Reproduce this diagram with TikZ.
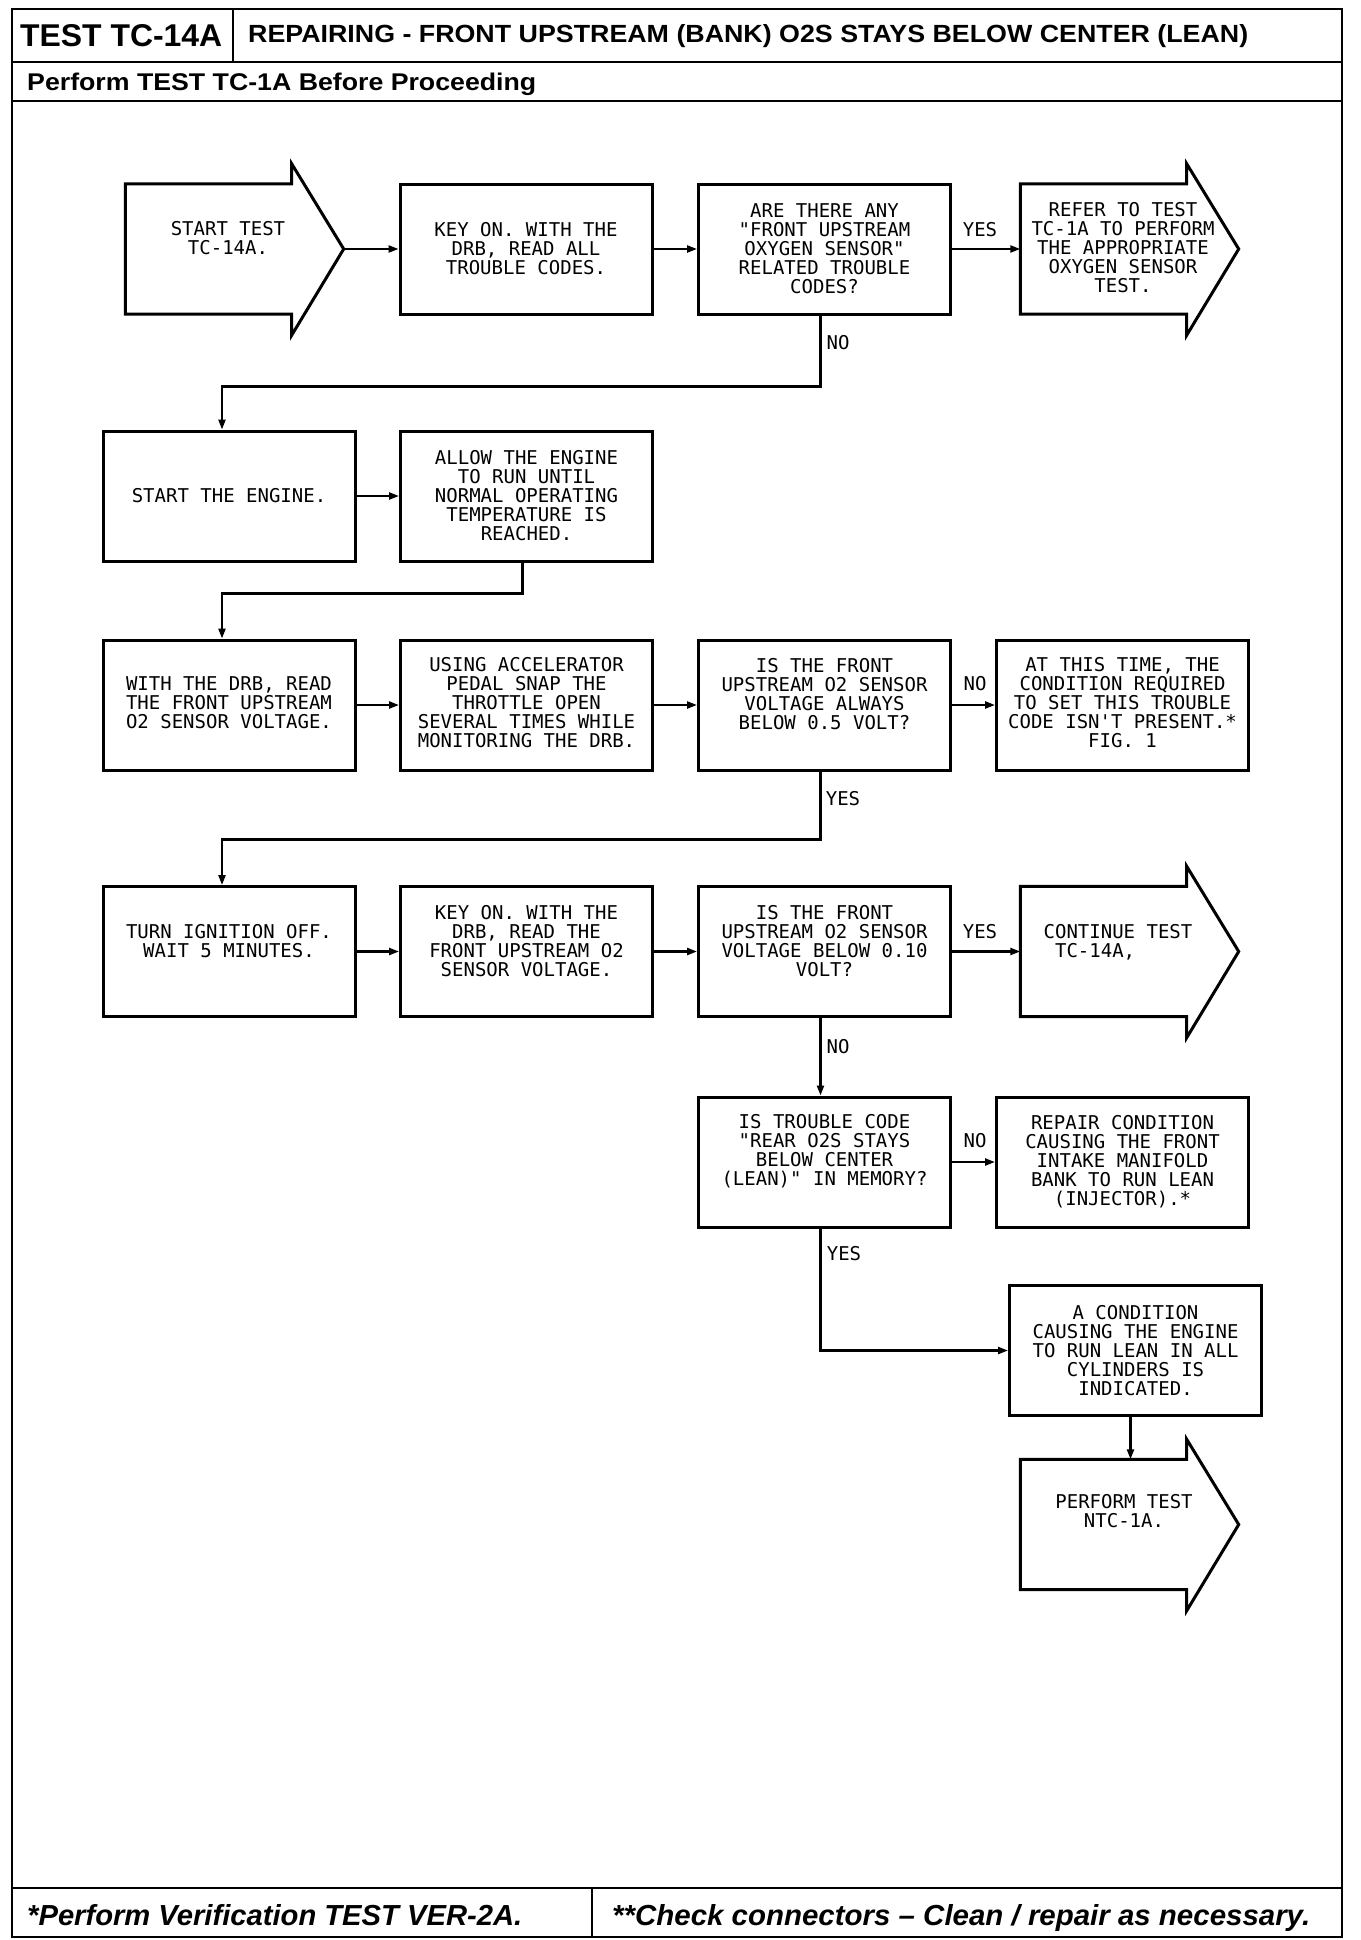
\documentclass[tikz,border=0pt]{standalone}
\usepackage{fontspec}
\usepackage{graphicx}
\setmainfont{Liberation Sans}
\newfontfamily\plotfont{DejaVu Sans Mono}
\usetikzlibrary{arrows.meta,calc}
\newcommand\bigarrow[1]{%
  \draw[boxline] (#1.north west) -- (#1.north east) -- ([yshift=20pt]#1.north east)
    -- ([xshift=52pt]#1.east) -- ([yshift=-21pt]#1.south east) -- (#1.south east)
    -- (#1.south west) -- cycle;
  \coordinate (#1tip) at ([xshift=52pt]#1.east);}
\begin{document}
\begin{tikzpicture}[x=1pt,y=-1pt,
  boxline/.style={line width=3pt, line join=miter},
  box/.style={draw, line width=3pt, minimum width=252pt, minimum height=130pt, inner sep=0pt},
  arrbody/.style={minimum width=166pt, minimum height=130pt, inner sep=0pt},
  txt/.style={font=\plotfont\fontsize{19}{19}\selectfont, align=center, inner sep=0pt},
  lbl/.style={font=\plotfont\fontsize{19}{19}\selectfont, inner sep=0pt},
  conn/.style={line width=2.2pt, -{Triangle[length=10pt,width=7pt]}},
  frame/.style={line width=2.6pt}]
\useasboundingbox (0,0) rectangle (1360,1940);
\fill[white] (0,0) rectangle (1360,1940);

% frame and header/footer
\draw[frame] (12,9) rectangle (1342,1937);
\draw[frame] (12,62) -- (1342,62);
\draw[frame] (12,101) -- (1342,101);
\draw[frame] (233,9) -- (233,62);
\draw[frame] (12,1888) -- (1342,1888);
\draw[frame] (592,1888) -- (592,1937);

\node[anchor=base west, inner sep=0pt] (hd1) at (20,47) {\resizebox{202pt}{22pt}{\bfseries TEST TC-14A}};
\node[anchor=base west, inner sep=0pt] (hd2) at (248,43) {\resizebox{1000pt}{18pt}{\bfseries REPAIRING - FRONT UPSTREAM (BANK) O2S STAYS BELOW CENTER (LEAN)}};
\node[anchor=base west, inner sep=0pt] (hd3) at (27,91) {\resizebox{509pt}{17.5pt}{\bfseries Perform TEST TC-1A Before Proceeding}};
\node[anchor=base west, inner sep=0pt] (ft1) at (27,1925) {\resizebox{495pt}{21pt}{\bfseries\itshape *Perform Verification TEST VER-2A.}};
\node[anchor=base west, inner sep=0pt] (ft2) at (612,1925) {\resizebox{698pt}{21pt}{\bfseries\itshape **Check connectors – Clean / repair as necessary.}};

% row 1
\node[arrbody] (a1) at (208.5,249) {};
\bigarrow{a1}
\node[txt] (ta1) at (228,238) {START TEST\\TC-14A.};
\node[box] (b1) at (526,249) {};
\node[txt] (t1) at (b1.center) {KEY ON. WITH THE\\DRB, READ ALL\\TROUBLE CODES.};
\node[box] (b2) at (824.5,249) {};
\node[txt] (t2) at (b2.center) {ARE THERE ANY\\"FRONT UPSTREAM\\OXYGEN SENSOR"\\RELATED TROUBLE\\CODES?};
\node[arrbody] (a2) at (1103.5,249) {};
\bigarrow{a2}
\node[txt] (ta2) at (1123,248) {REFER TO TEST\\TC-1A TO PERFORM\\THE APPROPRIATE\\OXYGEN SENSOR\\TEST.};

% row 2
\node[box] (b3) at (229,496) {};
\node[txt] (t3) at (b3.center) {START THE ENGINE.};
\node[box] (b4) at (526.5,496) {};
\node[txt] (t4) at (b4.center) {ALLOW THE ENGINE\\TO RUN UNTIL\\NORMAL OPERATING\\TEMPERATURE IS\\REACHED.};

% row 3
\node[box] (b5) at (229,705) {};
\node[txt] (t5) at ([yshift=2pt]b5.center) {WITH THE DRB, READ\\THE FRONT UPSTREAM\\O2 SENSOR VOLTAGE.};
\node[box] (b6) at (526.5,705) {};
\node[txt] (t6) at ([yshift=2pt]b6.center) {USING ACCELERATOR\\PEDAL SNAP THE\\THROTTLE OPEN\\SEVERAL TIMES WHILE\\MONITORING THE DRB.};
\node[box] (b7) at (824.5,705) {};
\node[txt] (t7) at ([yshift=11pt]b7.center) {IS THE FRONT\\UPSTREAM O2 SENSOR\\VOLTAGE ALWAYS\\BELOW 0.5 VOLT?};
\node[box] (b8) at (1122.5,705) {};
\node[txt] (t8) at ([yshift=2pt]b8.center) {AT THIS TIME, THE\\CONDITION REQUIRED\\TO SET THIS TROUBLE\\CODE ISN'T PRESENT.*\\FIG. 1};

% row 4
\node[box] (b9) at (229,951.5) {};
\node[txt] (t9) at ([yshift=10pt]b9.center) {TURN IGNITION OFF.\\WAIT 5 MINUTES.};
\node[box] (b10) at (526.5,951.5) {};
\node[txt] (t10) at ([yshift=10pt]b10.center) {KEY ON. WITH THE\\DRB, READ THE\\FRONT UPSTREAM O2\\SENSOR VOLTAGE.};
\node[box] (b11) at (824.5,951.5) {};
\node[txt] (t11) at ([yshift=10pt]b11.center) {IS THE FRONT\\UPSTREAM O2 SENSOR\\VOLTAGE BELOW 0.10\\VOLT?};
\node[arrbody] (a3) at (1103.5,951.5) {};
\bigarrow{a3}
\node[txt, align=left] (ta3) at (1118,942) {CONTINUE TEST\\\hphantom{C}TC-14A,};

% row 5
\node[box] (b12) at (824.5,1162) {};
\node[txt] (t12) at ([yshift=11pt]b12.center) {IS TROUBLE CODE\\"REAR O2S STAYS\\BELOW CENTER\\(LEAN)" IN MEMORY?};
\node[box] (b13) at (1122.5,1162) {};
\node[txt] (t13) at (b13.center) {REPAIR CONDITION\\CAUSING THE FRONT\\INTAKE MANIFOLD\\BANK TO RUN LEAN\\(INJECTOR).*};

% row 6
\node[box] (b14) at (1135.5,1350.5) {};
\node[txt] (t14) at (b14.center) {A CONDITION\\CAUSING THE ENGINE\\TO RUN LEAN IN ALL\\CYLINDERS IS\\INDICATED.};
\node[arrbody] (a4) at (1103.5,1524.5) {};
\bigarrow{a4}
\node[txt] (ta4) at (1124,1511) {PERFORM TEST\\NTC-1A.};

% labels
\node[lbl] (yes1) at (980,230) {YES};
\node[lbl] (no1) at (838,343) {NO};
\node[lbl] (no2) at (975,684) {NO};
\node[lbl] (yes2) at (843,799) {YES};
\node[lbl] (yes3) at (980,932) {YES};
\node[lbl] (no3) at (838,1047) {NO};
\node[lbl] (no4) at (975,1141) {NO};
\node[lbl] (yes4) at (844,1254) {YES};

% connectors
\draw[conn] (a1tip) -- (b1.west);
\draw[conn] (b1.east) -- (b2.west);
\draw[conn] (b2.east) -- (a2.west);
\draw[conn] ([xshift=-4pt]b2.south) -- ++(0,71) -| ([xshift=-7pt]b3.north);
\draw[conn] (b3.east) -- (b4.west);
\draw[conn] ([xshift=-4pt]b4.south) -- ++(0,31) -| ([xshift=-7pt]b5.north);
\draw[conn] (b5.east) -- (b6.west);
\draw[conn] (b6.east) -- (b7.west);
\draw[conn] (b7.east) -- (b8.west);
\draw[conn] ([xshift=-4pt]b7.south) -- ++(0,68) -| ([xshift=-7pt]b9.north);
\draw[conn] (b9.east) -- (b10.west);
\draw[conn] (b10.east) -- (b11.west);
\draw[conn] (b11.east) -- (a3.west);
\draw[conn] ([xshift=-4pt]b11.south) -- ([xshift=-4pt]b12.north);
\draw[conn] (b12.east) -- (b13.west);
\draw[conn] ([xshift=-4pt]b12.south) |- (b14.west);
\draw[conn] ([xshift=-5pt]b14.south) -- ([xshift=-5pt]b14.south |- a4.north);
\end{tikzpicture}
\end{document}
